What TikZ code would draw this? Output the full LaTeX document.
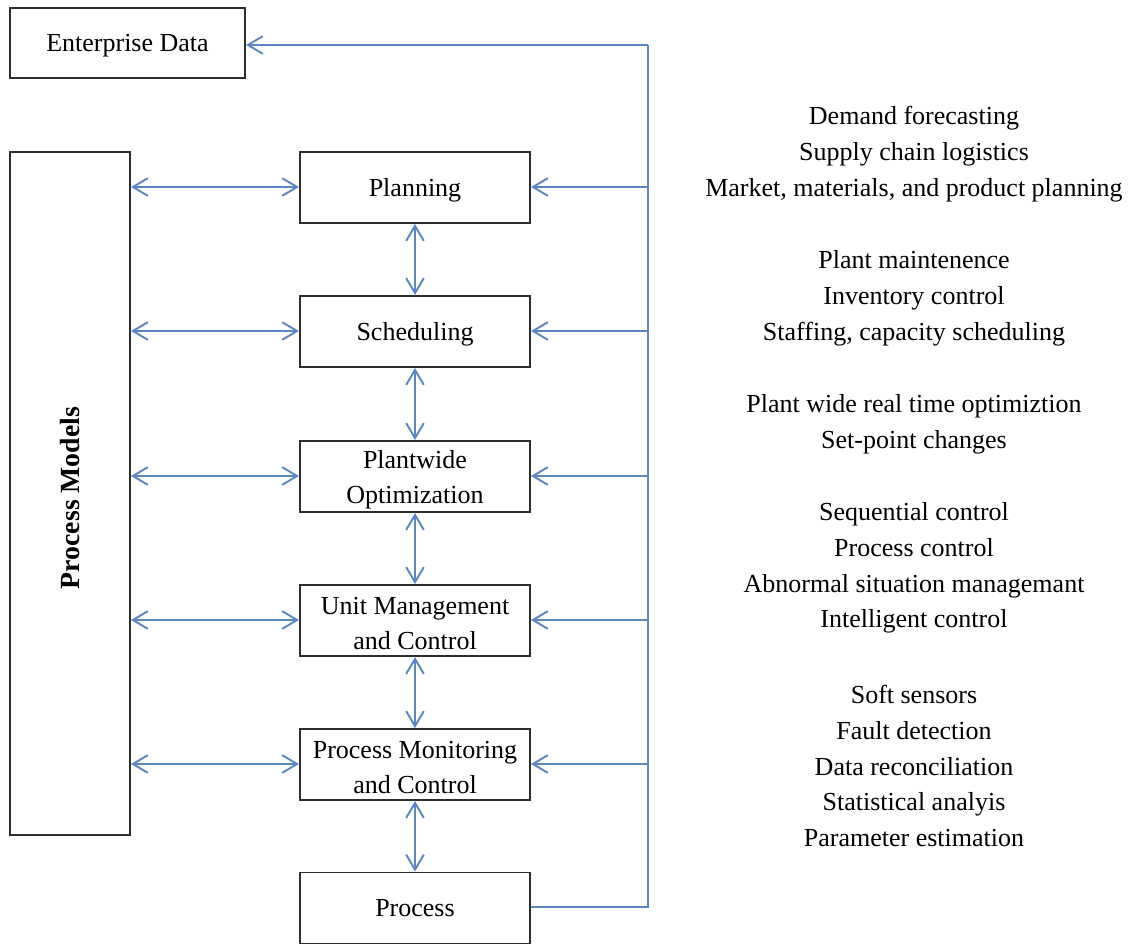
\documentclass[tikz,border=0pt]{standalone}
\usepackage{fontspec}
\setmainfont{Liberation Serif}
\usetikzlibrary{arrows.meta}
\definecolor{linkblue}{HTML}{5B87C5}
\definecolor{boxline}{HTML}{2E2E2E}
% raises the first line so that box labels sit a little lower
\newcommand{\firstlinestrut}{\rule{0pt}{13.6pt}}
\tikzset{
  >={Straight Barb[length=8.5pt, width=10pt, line width=1.1pt]},
  levelbox/.style={draw=boxline, line width=1.1pt, minimum width=230*0.02cm, minimum height=71*0.02cm, align=center, font=\fontsize{14.8}{20}\selectfont, inner sep=0pt},
  oneline/.style={text height=13.6pt, text depth=3.4pt},
  link/.style={draw=linkblue, line width=1.1pt},
  twoway/.style={link, <->},
  oneway/.style={link, ->},
  notes/.style={align=center, font=\fontsize{14.8}{20.4}\selectfont, inner sep=0pt}
}
\begin{document}
\begin{tikzpicture}[x=0.02cm, y=-0.02cm]
\useasboundingbox (0,0) rectangle (1132,945);

% left-hand blocks
\node[levelbox, oneline, minimum width=235*0.02cm, minimum height=70*0.02cm] (ent) at (127.5,43) {Enterprise Data};
\node[draw=boxline, line width=1.1pt, minimum width=120*0.02cm, minimum height=683*0.02cm, inner sep=0pt] (models) at (70,493.5) {};
\node[rotate=90, font=\bfseries\fontsize{15.8}{18}\selectfont] (modelstext) at (70,498) {Process Models};

% hierarchy of levels
\node[levelbox, oneline] (plan) at (415,187.5) {Planning};
\node[levelbox, oneline] (sched) at (415,331.5) {Scheduling};
\node[levelbox] (opt) at (415,476.5) {\firstlinestrut Plantwide\\Optimization};
\node[levelbox] (unit) at (415,620.5) {\firstlinestrut Unit Management\\and Control};
\node[levelbox] (mon) at (415,764.5) {\firstlinestrut Process Monitoring\\and Control};
\node[levelbox, oneline] (proc) at (415,908) {Process};

% data bus on the right
\coordinate (busTop) at (648,45);
\coordinate (busBot) at (648,907);
\coordinate (b1) at (648,187);
\coordinate (b2) at (648,331);
\coordinate (b3) at (648,476);
\coordinate (b4) at (648,620);
\coordinate (b5) at (648,764);
\draw[link] (proc.east |- busBot) -- (busBot) -- (busTop);
\draw[oneway] (busTop) -- (ent.east |- busTop);
\foreach \c/\n in {b1/plan, b2/sched, b3/opt, b4/unit, b5/mon}
  \draw[oneway] (\c) -- (\n.east |- \c);

% links between levels
\foreach \a/\b in {plan/sched, sched/opt, opt/unit, unit/mon, mon/proc}
  \draw[twoway] (\a.south) -- (\b.north);

% links to the process models
\foreach \c/\n in {b1/plan, b2/sched, b3/opt, b4/unit, b5/mon}
  \draw[twoway] (models.east |- \c) -- (\n.west |- \c);

% descriptions of each level
\node[notes] (n1) at (914,154) {Demand forecasting\\Supply chain logistics\\Market, materials, and product planning};
\node[notes] (n2) at (914,298) {Plant maintenence\\Inventory control\\Staffing, capacity scheduling};
\node[notes] (n3) at (914,424) {Plant wide real time optimiztion\\Set-point changes};
\node[notes] (n4) at (914,568) {Sequential control\\Process control\\Abnormal situation managemant\\Intelligent control};
\node[notes] (n5) at (914,766) {Soft sensors\\Fault detection\\Data reconciliation\\Statistical analyis\\Parameter estimation};
\end{tikzpicture}
\end{document}
